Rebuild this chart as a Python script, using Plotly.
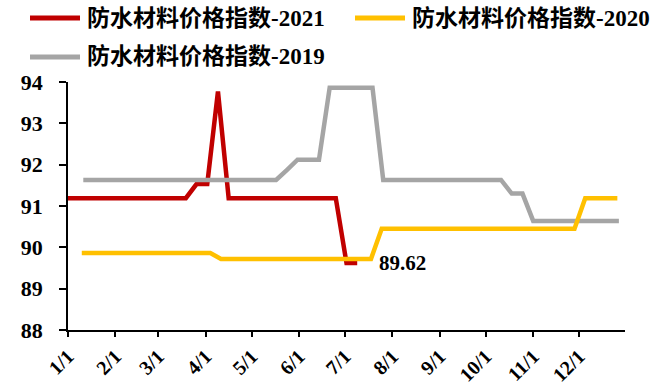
import pandas as pd
import plotly.graph_objects as go

# Weekly waterproofing-material price index, drawn on a shared Jan–Dec calendar axis
start_2021 = "2021-01-01"
start_2020 = "2021-01-10"
start_2019 = "2021-01-11"

index_2021 = [91.19, 91.19, 91.19, 91.19, 91.19, 91.19, 91.19, 91.19, 91.19, 91.19,
              91.19, 91.19, 91.53, 91.53, 93.77, 91.19, 91.19, 91.19, 91.19, 91.19,
              91.19, 91.19, 91.19, 91.19, 91.19, 91.19, 89.62, 89.62]

index_2020 = [89.86, 89.86, 89.86, 89.86, 89.86, 89.86, 89.86, 89.86, 89.86, 89.86,
              89.86, 89.86, 89.86, 89.72, 89.72, 89.72, 89.72, 89.72, 89.72, 89.72,
              89.72, 89.72, 89.72, 89.72, 89.72, 89.72, 89.72, 89.72, 90.45, 90.45,
              90.45, 90.45, 90.45, 90.45, 90.45, 90.45, 90.45, 90.45, 90.45, 90.45,
              90.45, 90.45, 90.45, 90.45, 90.45, 90.45, 90.45, 91.19, 91.19, 91.19,
              91.19]

index_2019 = [91.63, 91.63, 91.63, 91.63, 91.63, 91.63, 91.63, 91.63, 91.63, 91.63,
              91.63, 91.63, 91.63, 91.63, 91.63, 91.63, 91.63, 91.63, 91.63, 91.87,
              92.12, 92.12, 92.12, 93.86, 93.86, 93.86, 93.86, 93.86, 91.63, 91.63,
              91.63, 91.63, 91.63, 91.63, 91.63, 91.63, 91.63, 91.63, 91.63, 91.63,
              91.30, 91.30, 90.64, 90.64, 90.64, 90.64, 90.64, 90.64, 90.64, 90.64,
              90.64]

series_names = ["防水材料价格指数-2021", "防水材料价格指数-2020", "防水材料价格指数-2019"]
series_colors = ["#C00000", "#FFC000", "#A5A5A5"]

month_ticks = ["2021-%02d-01" % m for m in range(1, 13)]
month_labels = ["%d/1" % m for m in range(1, 13)]
y_ticks = [88, 89, 90, 91, 92, 93, 94]


def weekly(start, values):
    return pd.date_range(start, periods=len(values), freq="7D")


x21 = weekly(start_2021, index_2021)
x20 = weekly(start_2020, index_2020)
x19 = weekly(start_2019, index_2019)

FONT = "Liberation Serif, Times New Roman, Noto Sans CJK SC, serif"
LW = 4.5

fig = go.Figure()
fig.add_trace(go.Scatter(x=x21, y=index_2021, mode="lines", name=series_names[0],
                         line=dict(color=series_colors[0], width=LW), showlegend=False))
fig.add_trace(go.Scatter(x=x19, y=index_2019, mode="lines", name=series_names[2],
                         line=dict(color=series_colors[2], width=LW), showlegend=False))
fig.add_trace(go.Scatter(x=x20, y=index_2020, mode="lines", name=series_names[1],
                         line=dict(color=series_colors[1], width=LW), showlegend=False))

# value label at the latest 2021 reading
fig.add_annotation(x=x21[-1], y=index_2021[-1], text="<b>%.2f</b>" % index_2021[-1],
                   showarrow=False, xanchor="left", yanchor="middle", xshift=20,
                   font=dict(family=FONT, size=21, color="black"))

# legend: line swatch + label, laid out in two rows
W, H = 659, 387
L, R, T, B = 68, 34, 82, 57
pw, ph = W - L - R, H - T - B


def px_x(px):
    return (px - L) / pw


def px_y(py):
    return (H - B - py) / ph


legend_pos = [(30, 18), (355, 18), (30, 57)]
order = [0, 1, 2]
for (lx, ly), i in zip(legend_pos, order):
    fig.add_shape(type="line", xref="paper", yref="paper",
                  x0=px_x(lx), x1=px_x(lx + 50), y0=px_y(ly), y1=px_y(ly),
                  line=dict(color=series_colors[i], width=5))
    fig.add_annotation(xref="paper", yref="paper", x=px_x(lx + 55), y=px_y(ly),
                       text="<b>%s</b>" % series_names[i], showarrow=False,
                       xanchor="left", yanchor="middle",
                       font=dict(family=FONT, size=23, color="black"))

fig.update_layout(
    width=W, height=H,
    margin=dict(l=L, r=R, t=T, b=B, pad=0),
    paper_bgcolor="white", plot_bgcolor="white",
    showlegend=False,
    font=dict(family=FONT, size=20, color="black"),
)
fig.update_xaxes(
    type="date", range=["2021-01-01", "2021-12-31"], automargin=False,
    tickvals=month_ticks, ticktext=["<b>%s</b>" % t for t in month_labels],
    tickangle=-45, ticks="outside", ticklen=5, tickwidth=1.5, tickcolor="black",
    showline=True, linecolor="black", linewidth=1.5, showgrid=False, zeroline=False,
    tickfont=dict(family=FONT, size=20, color="black"),
)
fig.update_yaxes(
    range=[88, 94], tickvals=y_ticks, ticktext=["<b>%d</b>" % v for v in y_ticks],
    automargin=False,
    ticks="outside", ticklen=7, tickwidth=1.5, tickcolor="black",
    showline=True, linecolor="black", linewidth=1.5, showgrid=False, zeroline=False,
    tickfont=dict(family=FONT, size=22, color="black"), ticklabelstandoff=12,
)

fig.write_html("out.html")
